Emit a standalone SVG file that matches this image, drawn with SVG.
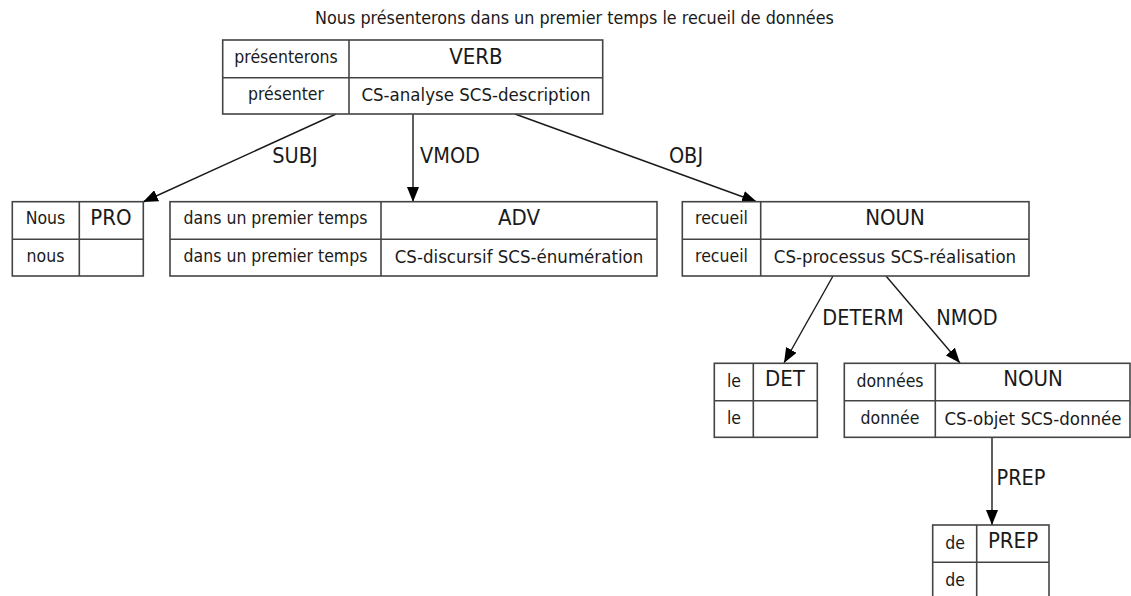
<svg xmlns="http://www.w3.org/2000/svg" width="1131" height="596" viewBox="0 0 1131 596">
<style>
  .box{fill:#fff;stroke:#444;stroke-width:1.6}
  .ln{stroke:#444;stroke-width:1.6;fill:none}
  .s{font-family:"DejaVu Sans Condensed","DejaVu Sans",sans-serif;font-size:17.5px;fill:#1a1a1a;text-anchor:middle}
  .b{font-family:"DejaVu Sans Condensed","DejaVu Sans",sans-serif;font-size:18.5px;fill:#1a1a1a;text-anchor:middle}
  .t{font-family:"DejaVu Sans Condensed","DejaVu Sans",sans-serif;font-size:17.8px;fill:#1a1a1a;text-anchor:middle}
  .h{font-family:"DejaVu Sans Condensed","DejaVu Sans",sans-serif;font-size:22px;fill:#1a1a1a;text-anchor:middle}
  .e{font-family:"DejaVu Sans Condensed","DejaVu Sans",sans-serif;font-size:21.5px;fill:#1a1a1a;text-anchor:middle}
  .edge{stroke:#1a1a1a;stroke-width:1.4;fill:none;marker-end:url(#arr)}
</style>
<defs>
  <marker id="arr" markerWidth="16" markerHeight="12" refX="15" refY="6" orient="auto" markerUnits="userSpaceOnUse">
    <path d="M0,0 L15,6 L0,12 Z" fill="#000"/>
  </marker>
</defs>
<rect width="1131" height="596" fill="#fff"/>
<text class="t" x="574.5" y="24">Nous présenterons dans un premier temps le recueil de données</text>

<g id="connectors">
  <line class="edge" x1="336" y1="114" x2="143" y2="202"/>
  <line class="edge" x1="413" y1="114" x2="413" y2="202"/>
  <line class="edge" x1="515" y1="114" x2="757" y2="202"/>
  <line class="edge" x1="833" y1="276" x2="784" y2="363"/>
  <line class="edge" x1="886" y1="276" x2="960" y2="363"/>
  <line class="edge" x1="992" y1="437" x2="992" y2="525"/>
  <text class="e" x="295" y="163">SUBJ</text>
  <text class="e" x="450" y="163">VMOD</text>
  <text class="e" x="686" y="163">OBJ</text>
  <text class="e" x="863" y="325">DETERM</text>
  <text class="e" x="967" y="325">NMOD</text>
  <text class="e" x="1021" y="485">PREP</text>
</g>

<g id="n-presenterons">
  <rect class="box" x="222.7" y="40" width="380" height="74"/>
  <line class="ln" x1="349" y1="40" x2="349" y2="114"/>
  <line class="ln" x1="222.7" y1="77.7" x2="602.7" y2="77.7"/>
  <text class="s" x="286" y="63">présenterons</text>
  <text class="h" x="476" y="64">VERB</text>
  <text class="s" x="286" y="100">présenter</text>
  <text class="b" x="476" y="101">CS-analyse SCS-description</text>
</g>

<g id="n-nous">
  <rect class="box" x="12.3" y="201.7" width="131" height="74.3"/>
  <line class="ln" x1="79.3" y1="201.7" x2="79.3" y2="276"/>
  <line class="ln" x1="12.3" y1="239.3" x2="143.3" y2="239.3"/>
  <text class="s" x="45.5" y="224">Nous</text>
  <text class="h" x="111" y="225">PRO</text>
  <text class="s" x="45.5" y="262">nous</text>
</g>

<g id="n-dans">
  <rect class="box" x="170" y="201.7" width="487" height="74.3"/>
  <line class="ln" x1="381" y1="201.7" x2="381" y2="276"/>
  <line class="ln" x1="170" y1="239.3" x2="657" y2="239.3"/>
  <text class="s" x="275.5" y="224">dans un premier temps</text>
  <text class="h" x="519" y="225">ADV</text>
  <text class="s" x="275.5" y="262">dans un premier temps</text>
  <text class="b" x="519" y="263">CS-discursif SCS-énumération</text>
</g>

<g id="n-recueil">
  <rect class="box" x="682.3" y="201.7" width="346.7" height="74.3"/>
  <line class="ln" x1="760.7" y1="201.7" x2="760.7" y2="276"/>
  <line class="ln" x1="682.3" y1="239.3" x2="1029" y2="239.3"/>
  <text class="s" x="721.5" y="224">recueil</text>
  <text class="h" x="895" y="225">NOUN</text>
  <text class="s" x="721.5" y="262">recueil</text>
  <text class="b" x="895" y="263">CS-processus SCS-réalisation</text>
</g>

<g id="n-le">
  <rect class="box" x="714.3" y="363.3" width="103" height="74"/>
  <line class="ln" x1="753.3" y1="363.3" x2="753.3" y2="437.3"/>
  <line class="ln" x1="714.3" y1="400.7" x2="817.3" y2="400.7"/>
  <text class="s" x="734" y="387">le</text>
  <text class="h" x="785" y="386">DET</text>
  <text class="s" x="734" y="424">le</text>
</g>

<g id="n-donnees">
  <rect class="box" x="844.3" y="363.3" width="285.7" height="74"/>
  <line class="ln" x1="935.3" y1="363.3" x2="935.3" y2="437.3"/>
  <line class="ln" x1="844.3" y1="400.7" x2="1130" y2="400.7"/>
  <text class="s" x="890" y="387">données</text>
  <text class="h" x="1033" y="386">NOUN</text>
  <text class="s" x="890" y="424">donnée</text>
  <text class="b" x="1033" y="425">CS-objet SCS-donnée</text>
</g>

<g id="n-de">
  <rect class="box" x="932.7" y="525" width="116.3" height="74"/>
  <line class="ln" x1="976.7" y1="525" x2="976.7" y2="599"/>
  <line class="ln" x1="932.7" y1="562.3" x2="1049" y2="562.3"/>
  <text class="s" x="955" y="549">de</text>
  <text class="h" x="1013" y="548">PREP</text>
  <text class="s" x="955" y="586">de</text>
</g>
</svg>
